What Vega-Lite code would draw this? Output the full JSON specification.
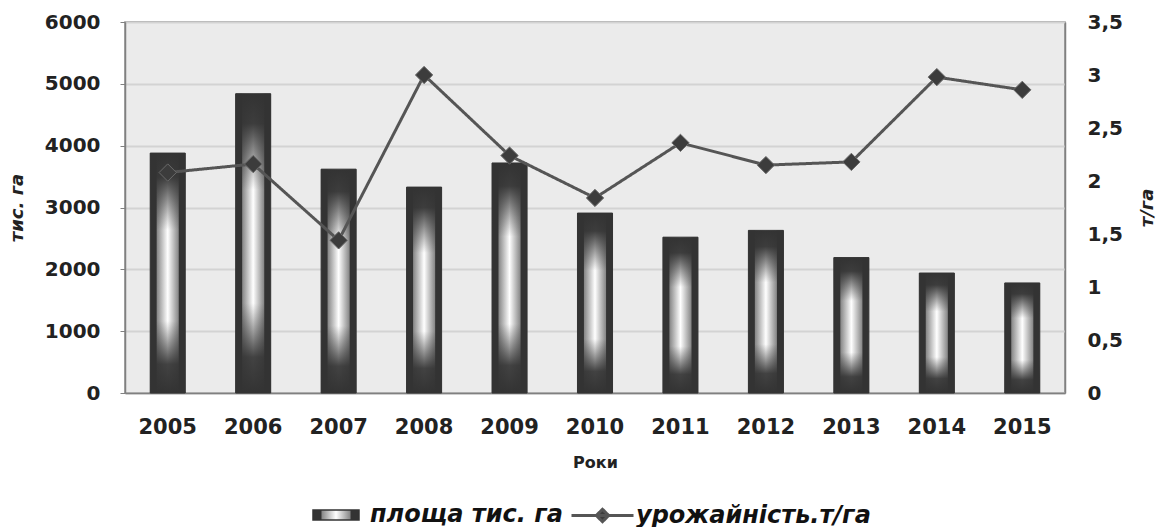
{
  "$schema": "https://vega.github.io/schema/vega-lite/v6.json",
  "width": 940,
  "height": 371,
  "autosize": {"type": "none"},
  "padding": {"left": 125, "top": 22, "right": 98, "bottom": 134},
  "background": "white",
  "config": {
    "font": "DejaVu Sans",
    "view": {"fill": "#ebebeb", "stroke": "#8a8a8a", "strokeWidth": 1.5},
    "axis": {
      "labelFont": "DejaVu Sans",
      "labelFontWeight": "bold",
      "labelFontSize": 20,
      "labelColor": "#222222",
      "titleFont": "DejaVu Sans",
      "titleColor": "#222222",
      "domainColor": "#808080",
      "domainWidth": 1.5
    },
    "legend": {
      "title": null,
      "orient": "none",
      "direction": "horizontal",
      "padding": 0,
      "labelFont": "DejaVu Sans",
      "labelFontSize": 24,
      "labelFontWeight": "bold",
      "labelFontStyle": "italic",
      "labelColor": "#111111",
      "labelLimit": 0
    }
  },
  "data": {
    "values": [
      {"year": "2005", "area": 3880, "yield": 2.08},
      {"year": "2006", "area": 4840, "yield": 2.16},
      {"year": "2007", "area": 3620, "yield": 1.44},
      {"year": "2008", "area": 3330, "yield": 3.0},
      {"year": "2009", "area": 3720, "yield": 2.24},
      {"year": "2010", "area": 2910, "yield": 1.84},
      {"year": "2011", "area": 2520, "yield": 2.36},
      {"year": "2012", "area": 2630, "yield": 2.15},
      {"year": "2013", "area": 2190, "yield": 2.18},
      {"year": "2014", "area": 1940, "yield": 2.98},
      {"year": "2015", "area": 1780, "yield": 2.86}
    ]
  },
  "encoding": {
    "x": {
      "field": "year",
      "type": "ordinal",
      "scale": {"paddingInner": 0.59, "paddingOuter": 0.295},
      "axis": {
        "title": "Роки",
        "titleFontSize": 16,
        "titleFontWeight": "bold",
        "titlePadding": 17,
        "labelAngle": 0,
        "labelPadding": 23,
        "labelFontSize": 21,
        "ticks": false
      }
    }
  },
  "layer": [
    {
      "encoding": {
        "y": {
          "field": "area",
          "type": "quantitative",
          "scale": {"domain": [0, 6000]},
          "axis": {
            "orient": "left",
            "values": [0, 1000, 2000, 3000, 4000, 5000, 6000],
            "format": "d",
            "grid": true,
            "gridColor": "#d3d3d3",
            "gridWidth": 2,
            "tickColor": "#808080",
            "tickSize": 5,
            "labelPadding": 20,
            "title": "тис. га",
            "titleFontSize": 18,
            "titleFontWeight": "bold",
            "titleFontStyle": "italic",
            "titlePadding": 18
          }
        }
      },
      "layer": [
        {
          "mark": {
            "type": "bar",
            "strokeWidth": 1,
            "fill": {
              "gradient": "linear",
              "x1": 0, "y1": 0, "x2": 1, "y2": 0,
              "stops": [
                {"offset": 0, "color": "#333333"},
                {"offset": 0.17, "color": "#333333"},
                {"offset": 0.2, "color": "#8a8a8a"},
                {"offset": 0.5, "color": "#ffffff"},
                {"offset": 0.8, "color": "#8a8a8a"},
                {"offset": 0.83, "color": "#333333"},
                {"offset": 1, "color": "#333333"}
              ]
            }
          },
          "encoding": {
            "stroke": {
              "datum": "площа тис. га",
              "type": "nominal",
              "scale": {"domain": ["площа тис. га"], "range": ["#333333"]},
              "legend": {
                "legendX": 187,
                "legendY": 469,
                "symbolType": "M-1,-0.22H1V0.22H-1Z",
                "symbolSize": 2116,
                "labelOffset": 10
              }
            }
          }
        },
        {
          "mark": {
            "type": "bar",
            "fill": {
              "gradient": "linear",
              "x1": 0, "y1": 0, "x2": 0, "y2": 1,
              "stops": [
                {"offset": 0, "color": "rgba(51,51,51,1)"},
                {"offset": 0.1, "color": "rgba(51,51,51,0.95)"},
                {"offset": 0.32, "color": "rgba(51,51,51,0)"},
                {"offset": 0.7, "color": "rgba(51,51,51,0)"},
                {"offset": 0.88, "color": "rgba(51,51,51,0.92)"},
                {"offset": 1, "color": "rgba(51,51,51,1)"}
              ]
            }
          }
        }
      ]
    },
    {
      "encoding": {
        "y": {
          "field": "yield",
          "type": "quantitative",
          "scale": {"domain": [0, 3.5]},
          "axis": {
            "orient": "right",
            "values": [0, 0.5, 1, 1.5, 2, 2.5, 3, 3.5],
            "labelExpr": "replace(format(datum.value, '~g'), '.', ',')",
            "grid": false,
            "ticks": false,
            "labelPadding": 22,
            "title": "т/га",
            "titleFontSize": 18,
            "titleFontWeight": "bold",
            "titleFontStyle": "italic",
            "titleAngle": 270,
            "titlePadding": 34
          }
        }
      },
      "layer": [
        {
          "mark": {"type": "line", "strokeWidth": 3, "stroke": "#555555"},
          "encoding": {
            "strokeDash": {
              "datum": "урожайність.т/га",
              "type": "nominal",
              "scale": {"domain": ["урожайність.т/га"], "range": [[1, 0]]},
              "legend": {
                "legendX": 445,
                "legendY": 461,
                "symbolType": "M-1,0H1M-0.2,0L0,-0.2L0.2,0L0,0.2Z",
                "symbolSize": 3844,
                "symbolFillColor": "#3c3c3c",
                "symbolStrokeColor": "#555555",
                "symbolStrokeWidth": 3,
                "labelOffset": 1
              }
            }
          }
        },
        {
          "mark": {
            "type": "point",
            "shape": "diamond",
            "filled": true,
            "size": 300,
            "fill": "#3c3c3c",
            "stroke": "#6a6a6a",
            "strokeWidth": 1,
            "opacity": 1
          }
        }
      ]
    }
  ],
  "resolve": {"scale": {"y": "independent"}}
}
